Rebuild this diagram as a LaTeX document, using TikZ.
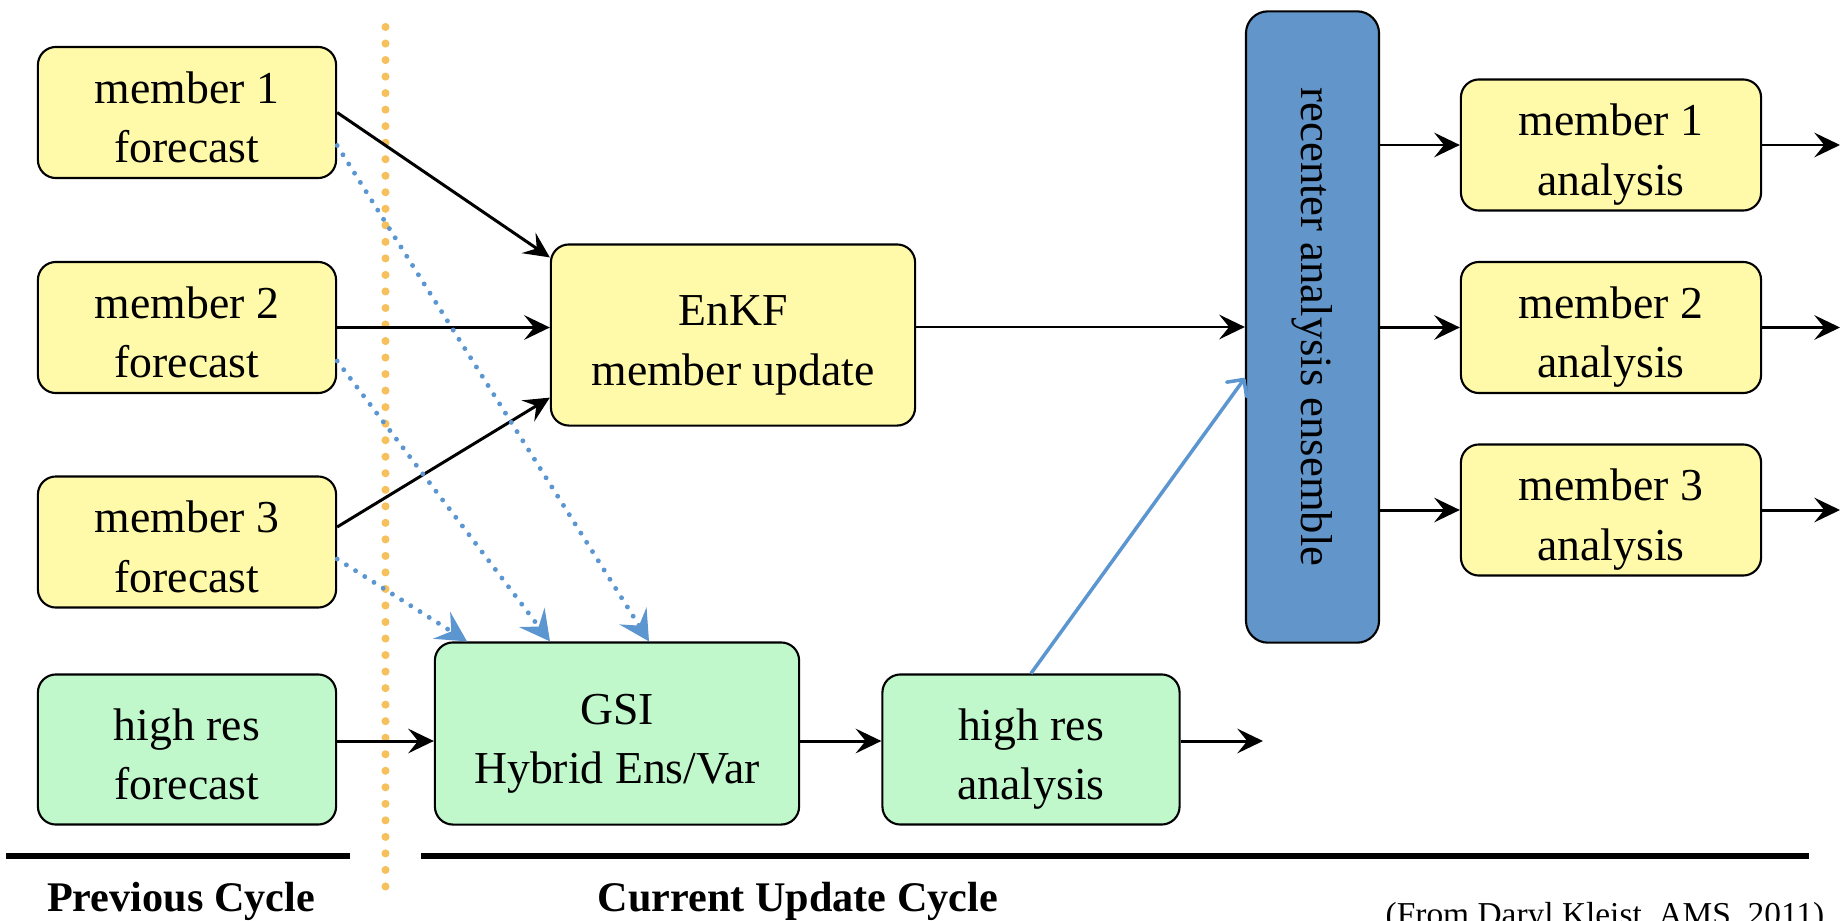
\documentclass[tikz,border=0pt]{standalone}
\usepackage{fontspec}
\setmainfont{Liberation Serif}
\usetikzlibrary{arrows.meta,calc}
\definecolor{yfill}{RGB}{255,250,170}
\definecolor{gfill}{RGB}{192,248,204}
\definecolor{rblue}{RGB}{98,150,202}
\definecolor{dblue}{RGB}{92,150,208}
\definecolor{orng}{RGB}{246,192,92}
\begin{document}
\begin{tikzpicture}[x=0.01cm,y=-0.01cm,
  frame/.style={draw=black,line width=0.6pt,rounded corners=0.18cm,align=center,inner sep=0pt},
  box/.style={frame,font=\fontsize{13}{17}\selectfont,text height=31.6pt,text depth=3pt},
  ybox/.style={box,fill=yfill,minimum width=2.98cm,minimum height=1.31cm},
  gbox/.style={box,fill=gfill},
  rcbox/.style={frame,fill=rblue,font=\fontsize{12.7}{15}\selectfont,rounded corners=0.22cm},
  arr/.style={-{Stealth[length=7.3pt,width=7pt,inset=2.8pt]},line width=0.85pt},
  darr/.style={-{Stealth[length=8.5pt,width=9pt,inset=3.2pt]},draw=dblue,
    line width=1.4pt,line cap=round,dash pattern=on 0pt off 3.1pt},
  sarr/.style={-{Straight Barb[round,length=3.5pt,width=7pt]},draw=dblue,line width=1pt},
  odot/.style={draw=orng,line width=2.3pt,line cap=round,dash pattern=on 0pt off 4.7pt},
  rule/.style={line width=1.7pt},
  lab/.style={font=\fontsize{12}{14}\selectfont\bfseries,anchor=base},
]
\useasboundingbox (0,0) rectangle (1842,921);

% orange divider
\coordinate (otop) at (385.5,27);
\coordinate (obot) at (385.5,893);
\draw[odot] (otop) -- (obot);

% nodes
\node[ybox] (m1f) at (187,112.5) {member 1\\forecast};
\node[ybox] (m2f) at (187,327.5) {member 2\\forecast};
\node[ybox] (m3f) at (187,542) {member 3\\forecast};
\node[gbox,minimum width=2.98cm,minimum height=1.5cm] (hrf) at (187,749.5) {high res\\forecast};
\node[ybox,minimum width=3.64cm,minimum height=1.81cm] (enkf) at (733,335) {EnKF\\member update};
\node[gbox,minimum width=3.64cm,minimum height=1.82cm] (gsi) at (617,733.5) {GSI\\Hybrid Ens/Var};
\node[gbox,minimum width=2.97cm,minimum height=1.5cm] (hra) at (1031,749.5) {high res\\analysis};
\node[rcbox,rotate=-90,minimum width=6.31cm,minimum height=1.33cm] (rc) at (1312.5,327) {recenter analysis ensemble};
\node[ybox,minimum width=3.0cm] (m1a) at (1611,145) {member 1\\analysis};
\node[ybox,minimum width=3.0cm] (m2a) at (1611,327.5) {member 2\\analysis};
\node[ybox,minimum width=3.0cm] (m3a) at (1611,510) {member 3\\analysis};

% output coordinates
\coordinate (r) at (0,741);
\coordinate (o1) at (1840,145);
\coordinate (o2) at (1840,327.5);
\coordinate (o3) at (1840,510);
\coordinate (oh) at (1263,741);

% black arrows
\draw[arr] (m1f.east) -- ([yshift=-0.14cm]enkf.north west);
\draw[arr] (m2f.east) -- (m2f.east -| enkf.west);
\draw[arr] ([yshift=0.15cm]m3f.east) -- ([yshift=0.29cm]enkf.south west);
\draw[arr] (enkf.east |- rc.center) -- (rc.south);
\draw[arr] (rc.north |- m1a.west) -- (m1a.west);
\draw[arr] (rc.north |- m2a.west) -- (m2a.west);
\draw[arr] (rc.north |- m3a.west) -- (m3a.west);
\draw[arr] (m1a.east) -- (o1);
\draw[arr] (m2a.east) -- (o2);
\draw[arr] (m3a.east) -- (o3);
\draw[arr] (hrf.east |- r) -- (gsi.west |- r);
\draw[arr] (gsi.east |- r) -- (hra.west |- r);
\draw[arr] (hra.east |- r) -- (oh);

% blue dotted arrows
\draw[darr] ([yshift=-0.33cm]m1f.east) -- ($(gsi.north)+(32,0)$);
\draw[darr] ([yshift=-0.335cm]m2f.east) -- ($(gsi.north)+(-67,0)$);
\draw[darr] ([yshift=-0.17cm]m3f.east) -- ($(gsi.north)+(-150,0)$);

% blue solid arrow
\draw[sarr] (hra.north) -- ($(rc.south)+(0,51)$);

% bottom rules and labels
\coordinate (l1) at (6,856);
\coordinate (l2) at (350,856);
\coordinate (l3) at (421,856);
\coordinate (l4) at (1809,856);
\draw[rule] (l1) -- (l2);
\draw[rule] (l3) -- (l4);
\node[lab] (pc) at (181,911) {Previous Cycle};
\node[lab] (cc) at (798,911) {Current Update Cycle};
\node[font=\fontsize{9.5}{11}\selectfont,anchor=base] (src) at (1605,925) {(From Daryl Kleist, AMS, 2011)};
\end{tikzpicture}
\end{document}
